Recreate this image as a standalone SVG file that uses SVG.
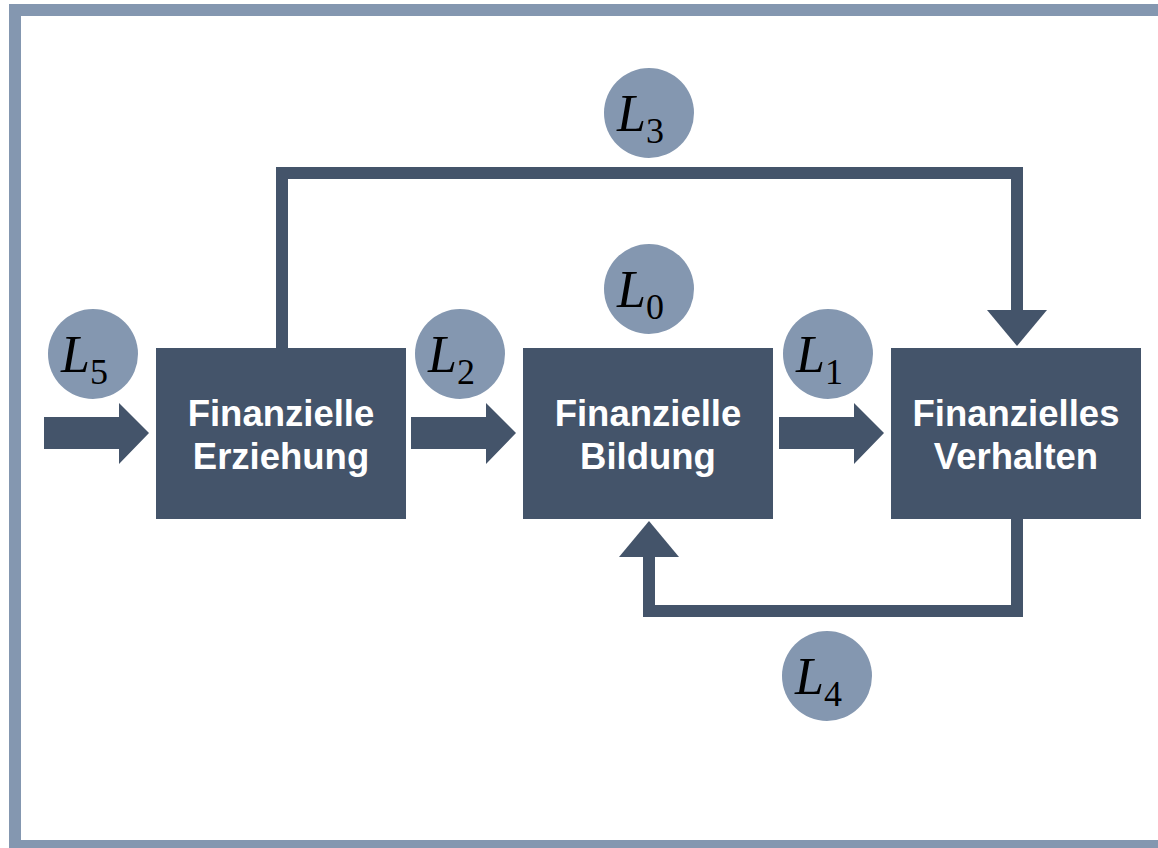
<svg xmlns="http://www.w3.org/2000/svg" width="1158" height="848" viewBox="0 0 1158 848">
<style>
.box{fill:#44546a}
.lbl{fill:#fff;font-family:"Liberation Sans",Arial,sans-serif;font-weight:bold;font-size:36.5px;text-anchor:middle}
.circ{fill:#8497b0}
.L{font-family:"Liberation Serif","Times New Roman",serif;font-style:italic;font-size:52px;fill:#000}
.sub{font-family:"Liberation Serif","Times New Roman",serif;font-size:36px;fill:#000}
.line{fill:none;stroke:#44546a;stroke-width:12;stroke-linejoin:miter}
.arr{fill:#44546a}
</style>
<rect x="15" y="10" width="1160" height="836" fill="#fff" stroke="#8497b0" stroke-width="12"/>
<g id="connectors">
<path class="line" d="M282,348 V173 H1017 V310"/>
<polygon class="arr" points="987,310 1047,310 1017,346"/>
<path class="line" d="M1017,519 V611 H649 V557"/>
<polygon class="arr" points="619,557 679,557 649,521"/>
<polygon class="arr" points="44,417 119,417 119,403 149,433 119,464 119,449 44,449"/>
<polygon class="arr" points="411,417 486,417 486,403 516,433 486,464 486,449 411,449"/>
<polygon class="arr" points="779,417 854,417 854,403 884,433 854,464 854,449 779,449"/>
</g>
<g id="node-erziehung">
<rect class="box" x="156" y="348" width="250" height="171"/>
<text class="lbl" x="281" y="426">Finanzielle</text>
<text class="lbl" x="281" y="469">Erziehung</text>
</g>
<g id="node-bildung">
<rect class="box" x="523" y="348" width="250" height="171"/>
<text class="lbl" x="648" y="426">Finanzielle</text>
<text class="lbl" x="648" y="469">Bildung</text>
</g>
<g id="node-verhalten">
<rect class="box" x="891" y="348" width="250" height="171"/>
<text class="lbl" x="1016" y="426">Finanzielles</text>
<text class="lbl" x="1016" y="469">Verhalten</text>
</g>
<g id="label-L5">
<circle class="circ" cx="93" cy="354" r="45"/>
<text class="L" x="61" y="372">L</text><text class="sub" x="90" y="384">5</text>
</g>
<g id="label-L3">
<circle class="circ" cx="649" cy="113" r="45"/>
<text class="L" x="617" y="131">L</text><text class="sub" x="646" y="143">3</text>
</g>
<g id="label-L0">
<circle class="circ" cx="649" cy="289" r="45"/>
<text class="L" x="617" y="307">L</text><text class="sub" x="646" y="319">0</text>
</g>
<g id="label-L2">
<circle class="circ" cx="460" cy="354" r="45"/>
<text class="L" x="428" y="372">L</text><text class="sub" x="457" y="384">2</text>
</g>
<g id="label-L1">
<circle class="circ" cx="828" cy="354" r="45"/>
<text class="L" x="796" y="372">L</text><text class="sub" x="825" y="384">1</text>
</g>
<g id="label-L4">
<circle class="circ" cx="827" cy="676" r="45"/>
<text class="L" x="795" y="694">L</text><text class="sub" x="824" y="706">4</text>
</g>
</svg>
